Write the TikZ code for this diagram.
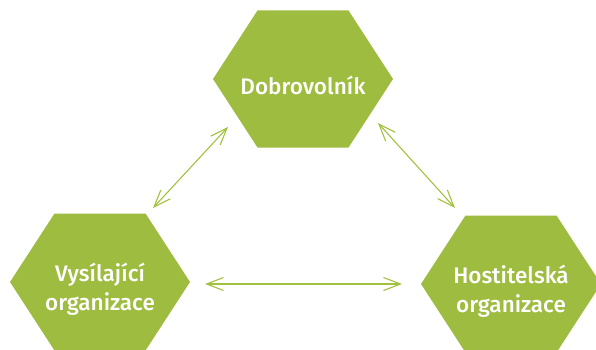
\documentclass[tikz,border=0pt]{standalone}
\usepackage{fontspec}
\newfontfamily\hexfont{Fira Sans Medium}
\usetikzlibrary{shapes.symbols,arrows.meta}
\definecolor{leaf}{RGB}{157,188,64}
\definecolor{twig}{RGB}{160,194,62}
\begin{document}
\begin{tikzpicture}[x=1pt,y=-1pt,
  hexa/.style={signal,signal to=west and east,signal pointer angle=114,
    fill=leaf,minimum width=180pt,minimum height=137pt,inner sep=0pt,outer sep=0pt},
  caption/.style={text=white,align=center,font=\hexfont\fontsize{22.5}{29}\selectfont},
  link/.style={draw=twig,line width=1.1pt,
    {Straight Barb[length=17pt,width=13pt]}-{Straight Barb[length=17pt,width=13pt]}}]
\useasboundingbox (0,0) rectangle (596,350);

% hexagons
\node[hexa] (volunteer) at (303,79) {};
\node[hexa] (sending) at (100,282) {};
\node[hexa] (hosting) at (511,284) {};
\node[caption] (volunteer-t) at ([yshift=-6pt]volunteer.center) {Dobrovolník};
\node[caption] (sending-t) at ([yshift=-7pt]sending.center) {Vysílající\\organizace};
\node[caption] (hosting-t) at ([yshift=-7pt]hosting.center) {Hostitelská\\organizace};

% arrow ends
\coordinate (leftlow) at (153,208);
\coordinate (lefthigh) at (228,127);
\coordinate (righthigh) at (378,123);
\coordinate (rightlow) at (455,208);
\coordinate (midleft) at (205,284);
\coordinate (midright) at (402,284);

\draw[link] (leftlow) -- (lefthigh);
\draw[link] (righthigh) -- (rightlow);
\draw[link] (midleft) -- (midright);
\end{tikzpicture}
\end{document}
